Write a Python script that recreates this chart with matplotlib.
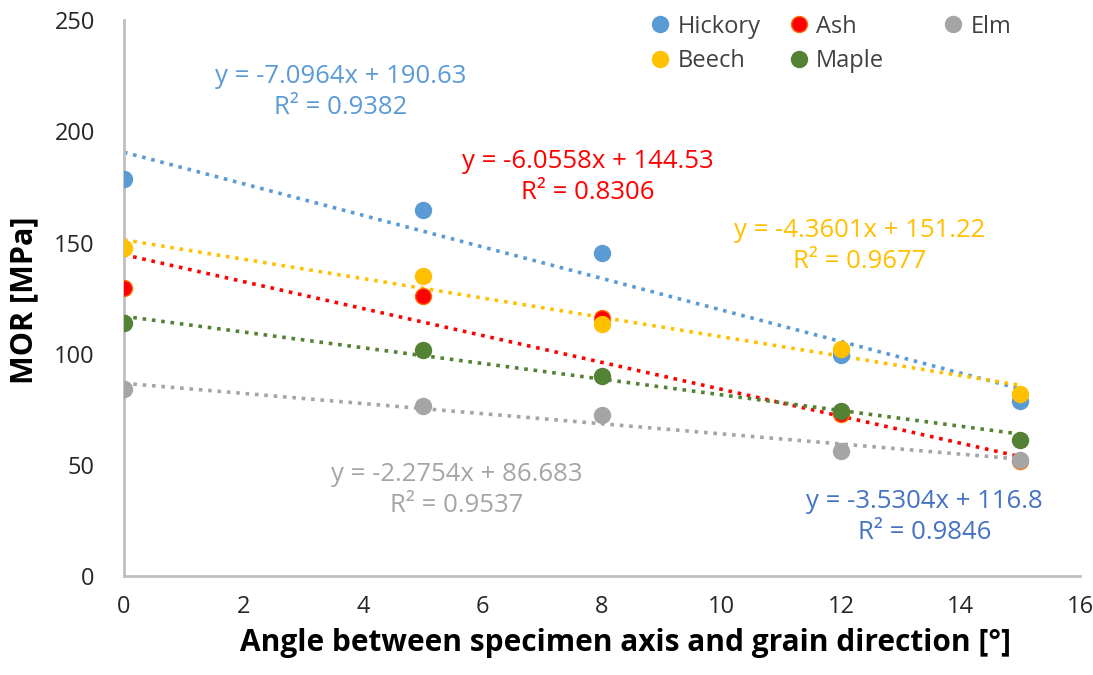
import numpy as np
import matplotlib.pyplot as plt

plt.rcParams['font.family'] = ['Open Sans', 'DejaVu Sans']

# === Data ===
angle = [0, 5, 8, 12, 15]
species = ["Hickory", "Ash", "Elm", "Beech", "Maple"]
mor_hickory = [178.5, 164.6, 145.2, 99.4, 78.7]
mor_ash = [129.5, 125.9, 116.0, 73.0, 51.5]
mor_elm = [84.0, 76.4, 72.4, 56.0, 52.0]
mor_beech = [147.5, 135.0, 113.3, 102.0, 82.0]
mor_maple = [113.8, 101.6, 90.0, 74.2, 61.2]

# trendline coefficients as printed on the chart
slopes = [-7.0964, -6.0558, -2.2754, -4.3601, -3.5304]
intercepts = [190.63, 144.53, 86.683, 151.22, 116.8]
r2 = ["0.9382", "0.8306", "0.9537", "0.9677", "0.9846"]

colors = ["#5B9BD5", "#FF0000", "#A5A5A5", "#FFC000", "#548235"]
edge_colors = ["#5B9BD5", "#FF6A00", "#A5A5A5", "#FFC000", "#548235"]
eq_colors = ["#5B9BD5", "#FF0000", "#A5A5A5", "#FFC000", "#4472C4"]
eq_pos = [(3.63, 217.6), (7.77, 179.4), (5.57, 38.7), (12.32, 148.4), (13.4, 26.5)]

series = [mor_hickory, mor_ash, mor_elm, mor_beech, mor_maple]

fig = plt.figure(figsize=(10.93, 6.75), dpi=100)
ax = fig.add_axes([0.1134, 0.1467, 0.8746, 0.8233])

x_arr = np.array(angle, dtype=float)
handles = {}
for i, name in enumerate(species):
    fit = slopes[i] * x_arr + intercepts[i]
    ax.plot(x_arr, fit, linestyle=(0, (1, 1.6)), linewidth=2.6, color=colors[i], zorder=2)
    h, = ax.plot(angle, series[i], 'o', ms=11.5, color=colors[i],
                 markeredgecolor=edge_colors[i], markeredgewidth=1, zorder=3, label=name)
    handles[name] = h
    ax.text(eq_pos[i][0], eq_pos[i][1],
            f"y = {slopes[i]}x + {intercepts[i]:g}\nR² = {r2[i]}",
            color=eq_colors[i], fontsize=18.5, ha='center', va='center',
            linespacing=1.3, zorder=4)

# legend: two columns plus Elm on its own, as in the picture
leg_kw = dict(frameon=False, loc='upper left', fontsize=17, handletextpad=0.15,
              labelspacing=0.45, handlelength=1.2, labelcolor='#404040',
              borderaxespad=0, borderpad=0)
order = ["Hickory", "Beech", "Ash", "Maple"]
leg1 = ax.legend([handles[n] for n in order], order, ncol=2, columnspacing=1.0,
                 bbox_to_anchor=(0.546, 1.010), **leg_kw)
ax.add_artist(leg1)
ax.legend([handles["Elm"]], ["Elm"], bbox_to_anchor=(0.8525, 1.010), **leg_kw)

ax.set_xlim(0, 16)
ax.set_ylim(0, 250)
ax.set_xticks(range(0, 17, 2))
ax.set_yticks(range(0, 251, 50))
ax.tick_params(axis='x', length=0, labelsize=17, labelcolor='#262626', pad=14)
ax.tick_params(axis='y', length=0, labelsize=17, labelcolor='#262626', pad=21)
for s in ['top', 'right']:
    ax.spines[s].set_visible(False)
for s in ['left', 'bottom']:
    ax.spines[s].set_color('#BFBFBF')
    ax.spines[s].set_linewidth(2)

ax.set_xlabel("Angle between specimen axis and grain direction [°]", fontsize=21.5, fontweight='bold')
ax.set_ylabel("MOR [MPa]", fontsize=22, fontweight='bold')
ax.xaxis.set_label_coords(0.525, -0.093)
ax.yaxis.set_label_coords(-0.088, 0.497)

fig.savefig("out.png", dpi=100)
